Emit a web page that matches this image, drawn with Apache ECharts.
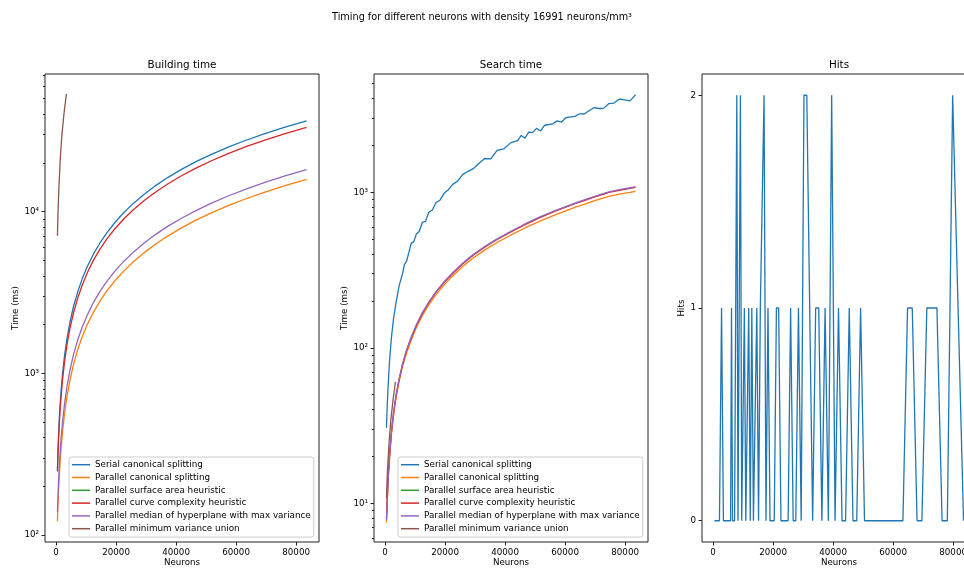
<!DOCTYPE html>
<html><head><meta charset="utf-8">
<script src="https://cdn.jsdelivr.net/npm/echarts@6/dist/echarts.min.js"></script>
<style>html,body{margin:0;padding:0;background:#fff}#c{width:964px;height:568px}</style>
</head><body><div id="c"></div>
<script>
// ---------- data ----------
const seriesNames = ['Serial canonical splitting','Parallel canonical splitting','Parallel surface area heuristic','Parallel curve complexity heuristic','Parallel median of hyperplane with max variance','Parallel minimum variance union'];
const colors = ['#1f77b4','#ff7f0e','#2ca02c','#d62728','#9467bd','#8c564b'];

const neuronsBuild = [459,583,729,896,1087,1304,1548,2124,2827,3670,4666,5828,7168,8699,10435,12386,14568,16991,19669,22615,25841,29360,33186,37329,41804,46623,51799,57345,63272,69595,76326,83477];
const buildSerial   = [255,310,375,445,530,625,730,985,1290,1660,2090,2600,3170,3840,4590,5440,6380,7430,8600,9880,11290,12830,14500,16310,18270,20380,22640,25070,27660,30420,33370,36500];
const buildParallel = [122,145,170,200,235,275,320,430,565,725,915,1140,1395,1685,2010,2375,2790,3245,3750,4305,4915,5580,6305,7090,7940,8860,9840,10900,12020,13220,14500,15860];
const buildSurface  = [];
const buildCurve    = [247,295,350,415,490,575,670,900,1180,1515,1910,2370,2900,3510,4200,4980,5850,6810,7870,9040,10320,11720,13240,14890,16680,18600,20660,22880,25230,27750,30430,33260];
const buildMedian   = [139,165,195,230,270,315,370,495,650,835,1055,1310,1600,1930,2300,2730,3200,3720,4300,4940,5640,6400,7240,8140,9110,10160,11290,12500,13790,15170,16640,18190];
const neuronsBrown  = [459,653,989,1423,1969,2639,3445];
const buildMinVar   = [7100,10000,14800,21600,30200,40500,53500];

const neuronsSearchSerial = [459,583,729,896,1087,1304,1548,2124,2827,3670,4666,5828,6475,7168,7909,8699,9541,10435,11383,12386,13448,14568,15748,16991,18298,19669,21108,22615,24192,25841,27563,29360,31234,33186,35217,37329,39525,41804,44170,45386,46623,47883,49166,50471,51799,53150,55923,57345,58790,60260,63272,64816,66384,67977,69595,71239,72909,74604,76326,78074,79848,81649,83477];
const searchSerial = [30.6,36,43,51,60,72,85,117,155,196,250,300,345,360,410,470,480,540,560,640,650,745,770,860,890,985,1040,1130,1180,1300,1360,1420,1530,1650,1640,1860,1900,2080,2150,2320,2230,2440,2420,2580,2480,2700,2760,2880,2830,3020,3080,3200,3190,3350,3500,3460,3480,3720,3750,3980,3930,3870,4250];
const neuronsSearch = [459,583,729,896,1087,1304,1548,2124,2827,3670,4666,5828,7168,8699,10435,12386,14568,16991,19669,22615,25841,29360,33186,37329,41804,46623,51799,57345,63272,66384,69595,72909,74604,78074,81649,83477];
const searchParallel = [7.5,8.7,10.4,12.3,14.6,17.3,20.2,27.8,37,48,60.5,76,93,112,135,161,189,220,254,291,333,378,425,476,530,590,655,725,800,838,880,922,942,975,1000,1015];
const searchSurface  = [];
const searchCurve    = [8.0,9.1,10.7,12.7,15.0,17.8,20.8,28.7,38,49.5,62.5,78,96,116,139,166,195,228,263,302,346,394,444,497,555,620,690,765,845,885,930,975,998,1030,1062,1075];
const searchMedian   = [7.8,9.0,10.8,12.8,15.2,18,21,29,38.5,50,63,79,97,117,141,168,197,230,266,305,350,398,448,502,560,626,697,772,852,893,938,985,1005,1040,1070,1085];
const searchMinVar   = [10.8,14,19,26,35,46,60.5];

const hitsNeurons = [459,519,583,653,729,809,896,989,1087,1193,1304,1423,1548,1681,1821,1969,2124,2287,2459,2639,2827,3024,3230,3445,3670,3904,4148,4402,4666,4941,5226,5521,5828,6146,6475,6816,7168,7533,7909,8298,8699,9114,9541,9981,10435,10902,11383,11878,12386,12910,13448,14000,14568,15150,15748,16362,16991,17636,18298,18975,19669,20380,21108,21853,22615,23395,24192,25008,25841,26693,27563,28453,29360,30288,31234,32200,33186,34191,35217,36263,37329,38416,39525,40654,41804,42976,44170,45386,46623,47883,49166,50471,51799,53150,54525,55923,57345,58790,60260,61754,63272,64816,66384,67977,69595,71239,72909,74604,76326,78074,79848,81649,83477];
const hits = [0,0,0,0,0,0,0,0,0,0,0,0,0,0,0,0,0,0,0,0, 1,1,1, 0,0,0,0,0,0,0,0,0,0, 1, 0,0,0,0, 2, 0,0, 2, 0,0, 1, 0,0, 1, 0, 1, 0,0, 1, 0, 1,1, 2, 0, 1, 0,0,0, 1,1, 0,0,0,0, 1, 0,0, 1, 0, 2,2, 1, 0, 1,1, 0, 1, 0, 2, 0, 1, 0,0, 1, 0,0, 1, 0,0,0,0,0,0,0,0,0,0, 1,1, 0,0, 1,1,1, 0,0, 2, 1, 0];

const xTicks = [0,20000,40000,60000,80000];
const buildTicks = [100,1000,10000];
const buildMinor = [200,300,400,500,600,700,800,900,2000,3000,4000,5000,6000,7000,8000,9000,20000,30000,40000,50000,60000,70000];
const searchTicks = [10,100,1000];
const searchMinor = [6,7,8,9,20,30,40,50,60,70,80,90,200,300,400,500,600,700,800,900,2000,3000,4000,5000];
const hitsTicks = [0,1,2];

// ---------- chart ----------
const FONT = 'DejaVu Sans';
const SUP = {'0':'⁰','1':'¹','2':'²','3':'³','4':'⁴','5':'⁵'};
const logFmt = v => '10' + String(Math.round(Math.log10(v))).split('').map(c=>SUP[c]).join('');
const pair = (xs, ys) => ys.map((y,i)=>[xs[i],y]);

const grids = [
  {left:45, top:74, width:274, height:468},
  {left:374, top:74, width:274, height:468},
  {left:702, top:74, width:274, height:468}
].map(g => Object.assign(g, {show:true, borderColor:'#222', borderWidth:1, backgroundColor:'transparent', containLabel:false, outerBoundsMode:'none'}));

const tickStyle = {color:'#222', width:1};
function xAxis(i){
  return {type:'value', gridIndex:i, min:-3692, max:87628, position:'bottom',
    axisLine:{show:false, onZero:false}, splitLine:{show:false},
    axisTick:{show:true, customValues:xTicks, length:3.5, lineStyle:tickStyle},
    axisLabel:{customValues:xTicks, formatter:v=>String(v), fontSize:8.7, color:'#000', margin:6, fontFamily:FONT, hideOverlap:false}};
}
function logAxis(i, min, max, ticks, label){
  return {type:'log', gridIndex:i, min:min, max:max, position:'left',
    axisLine:{show:false, onZero:false}, splitLine:{show:false}, minorTick:{show:false},
    axisTick:{show:true, customValues:ticks, length: label?3.5:2, lineStyle:tickStyle},
    axisLabel: label ? {customValues:ticks, formatter:logFmt, fontSize:8.7, color:'#000', margin:6, fontFamily:FONT} : {show:false},
    name: label ? 'Time (ms)' : '', nameLocation:'middle', nameGap:24,
    nameTextStyle:{fontSize:8.7, color:'#000', fontFamily:FONT}};
}

function lineSeries(name, color, xi, yi, data){
  return {type:'line', name:name, xAxisIndex:xi, yAxisIndex:yi, data:data, showSymbol:false, symbol:'none',
    lineStyle:{color:color, width:1.3}, itemStyle:{color:color}, animation:false, silent:true};
}

const buildSets = [pair(neuronsBuild,buildSerial), pair(neuronsBuild,buildParallel), pair(neuronsBuild,buildSurface), pair(neuronsBuild,buildCurve), pair(neuronsBuild,buildMedian), pair(neuronsBrown,buildMinVar)];
const searchSets = [pair(neuronsSearchSerial,searchSerial), pair(neuronsSearch,searchParallel), pair(neuronsSearch,searchSurface), pair(neuronsSearch,searchCurve), pair(neuronsSearch,searchMedian), pair(neuronsBrown,searchMinVar)];

const series = [];
seriesNames.forEach((n,i)=>series.push(lineSeries(n, colors[i], 0, 0, buildSets[i])));
seriesNames.forEach((n,i)=>series.push(lineSeries(n, colors[i], 1, 2, searchSets[i])));
series.push(lineSeries('Hits', colors[0], 2, 4, pair(hitsNeurons, hits)));

function legend(left){
  return {data:seriesNames, orient:'vertical', left:left, top:457, padding:[1.3,3,2,3],
    itemWidth:18, itemHeight:1.5, itemGap:0, icon:'rect', selectedMode:false,
    textStyle:{fontSize:8.8, lineHeight:12.8, color:'#000', fontFamily:FONT},
    borderColor:'#cccccc', borderWidth:1, borderRadius:2.5, backgroundColor:'rgba(255,255,255,0.8)'};
}

const txt = (x,y,t,size)=>({type:'text', x:x, y:y, silent:true,
  style:{text:t, fill:'#000', font:size+'px "'+FONT+'"', textAlign:'center', textVerticalAlign:'middle'}});

const option = {
  animation:false,
  backgroundColor:'#fff',
  textStyle:{fontFamily:FONT},
  grid: grids,
  xAxis: [xAxis(0), xAxis(1), xAxis(2)],
  yAxis: [
    logAxis(0, 90.5, 71060, buildTicks, true),
    logAxis(0, 90.5, 71060, buildMinor, false),
    logAxis(1, 5.64, 5767, searchTicks, true),
    logAxis(1, 5.64, 5767, searchMinor, false),
    {type:'value', gridIndex:2, min:-0.1, max:2.1, position:'left', axisLine:{show:false, onZero:false}, splitLine:{show:false},
     axisTick:{show:true, customValues:hitsTicks, length:3.5, lineStyle:tickStyle},
     axisLabel:{customValues:hitsTicks, fontSize:8.7, color:'#000', margin:6, fontFamily:FONT},
     name:'Hits', nameLocation:'middle', nameGap:15, nameTextStyle:{fontSize:8.7, color:'#000', fontFamily:FONT}}
  ],
  legend: [legend(69), legend(398)],
  graphic: [
    txt(482, 17, 'Timing for different neurons with density 16991 neurons/mm³', 9.7),
    txt(182, 65, 'Building time', 10.4),
    txt(511, 65, 'Search time', 10.4),
    txt(839, 65, 'Hits', 10.4),
    txt(182, 563, 'Neurons', 8.7),
    txt(511, 563, 'Neurons', 8.7),
    txt(839, 563, 'Neurons', 8.7)
  ],
  series: series
};

const chart = echarts.init(document.getElementById('c'), null, {renderer:'canvas'});
chart.setOption(option);
</script>
</body></html>
